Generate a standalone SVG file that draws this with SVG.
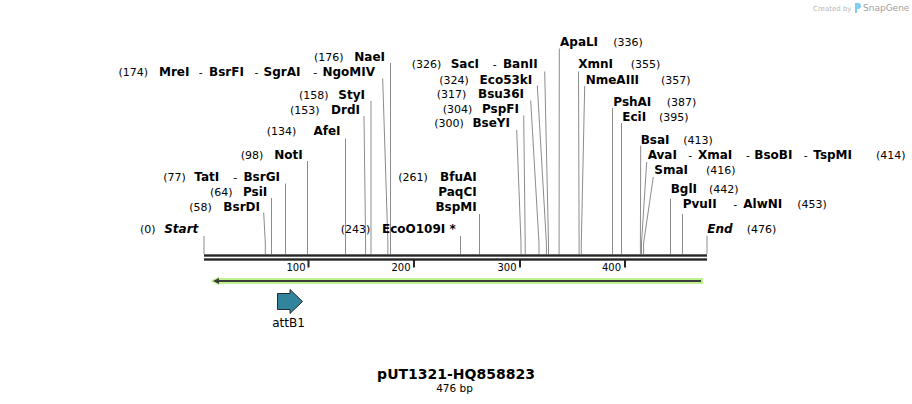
<svg xmlns="http://www.w3.org/2000/svg" width="912" height="404" viewBox="0 0 912 404">
<style>
text{font-family:"DejaVu Sans",Verdana,sans-serif;fill:#000}
.n{font-size:11px}
.b{font-size:12px;font-weight:bold}
.bi{font-size:12px;font-weight:bold;font-style:italic}
.e{text-anchor:end}
.t{font-size:10px;text-anchor:end}
.c{stroke:#8c8c8c;stroke-width:1;fill:none}
</style>
<rect width="912" height="404" fill="#fff"/>
<g id="watermark">
<text x="813" y="10.5" style="font-size:7px;fill:#b8b8b8">Created by</text>
<path d="M855,3 h3 a3,3 0 0 1 0,6 h-1 v4 h-2 z" fill="#7fcdf2"/>
<text x="863" y="11" style="font-size:9px;fill:#a0a0a0">SnapGene</text>
</g>
<g id="backbone">
<rect x="204" y="254.3" width="503" height="2.4" fill="#262626"/>
<rect x="204" y="258.3" width="503" height="2.4" fill="#262626"/>
<rect x="307.5" y="260" width="2" height="7.5" fill="#262626"/>
<rect x="413" y="260" width="2" height="7.5" fill="#262626"/>
<rect x="519" y="260" width="2" height="7.5" fill="#262626"/>
<rect x="624" y="260" width="2" height="7.5" fill="#262626"/>
<text class="t" x="305.5" y="271">100</text>
<text class="t" x="410.5" y="271">200</text>
<text class="t" x="516.5" y="271">300</text>
<text class="t" x="621" y="271">400</text>
</g>
<g id="feature-strand">
<rect x="217" y="278" width="486" height="6" fill="#bff28f"/>
<polygon points="210.5,281 219,276.5 219,285.5" fill="#bff28f"/>
<line x1="216" y1="281" x2="701" y2="281" stroke="#3c3c3c" stroke-width="2"/>
<polygon points="213,281 219,278 219,284" fill="#3c3c3c"/>
</g>
<g id="attB1">
<polygon points="277.5,293.5 290,293.5 290,289.5 302.5,301.5 290,313.5 290,309.5 277.5,309.5" fill="#31849b" stroke="#2a2a2a" stroke-width="1"/>
<text x="288.5" y="327" style="font-size:12px;text-anchor:middle">attB1</text>
</g>
<g id="title">
<text x="456" y="378.5" style="font-size:14px;font-weight:bold;text-anchor:middle">pUT1321-HQ858823</text>
<text x="454.5" y="391.5" style="font-size:10.5px;text-anchor:middle">476 bp</text>
</g>
<g id="connectors">
<polyline class="c" points="204,236 204,254"/>
<polyline class="c" points="263.7,212.5 265.3,243 265.3,254"/>
<polyline class="c" points="271.5,198 271.5,254"/>
<polyline class="c" points="285.5,183.5 285.5,254"/>
<polyline class="c" points="307.5,161 307.5,254"/>
<polyline class="c" points="345.5,138.5 345.5,254"/>
<polyline class="c" points="364,116 365.6,243 365.6,254"/>
<polyline class="c" points="371,101 371,254"/>
<polyline class="c" points="382.7,78.5 387.9,243 387.9,254"/>
<polyline class="c" points="390.5,63 390.5,254"/>
<polyline class="c" points="460.5,236 460.5,254"/>
<polyline class="c" points="479.5,214 479.5,254"/>
<polyline class="c" points="516.7,130 521,243 521,254"/>
<polyline class="c" points="523.7,115.5 525.2,243 525.2,254"/>
<polyline class="c" points="530.7,100.5 539,243 539,254"/>
<polyline class="c" points="537.3,85.5 546.4,243 546.4,254"/>
<polyline class="c" points="544.7,71.5 548.5,243 548.5,254"/>
<polyline class="c" points="559.3,48.5 559.1,243 559.1,254"/>
<polyline class="c" points="578.5,71.5 579.1,243 579.1,254"/>
<polyline class="c" points="584.7,86 581.3,243 581.3,254"/>
<polyline class="c" points="612.5,108 612.5,254"/>
<polyline class="c" points="621.5,123 621.5,254"/>
<polyline class="c" points="640.7,145.5 640.4,243 640.4,254"/>
<polyline class="c" points="646.7,162 641.5,243 641.5,254"/>
<polyline class="c" points="653.3,177 643.6,243 643.6,254"/>
<polyline class="c" points="670.5,198.5 670.5,254"/>
<polyline class="c" points="682.5,214 682.5,254"/>
<polyline class="c" points="707,235.5 707,254"/>
</g>
<g id="Start"><text class="n" x="140" y="233.3">(0)</text><text class="bi e" x="198.3" y="233.3">Start</text></g>
<g id="BsrDI"><text class="n" x="189.3" y="210.7">(58)</text><text class="b e" x="260" y="210.7">BsrDI</text></g>
<g id="PsiI"><text class="n" x="210" y="195.7">(64)</text><text class="b e" x="267.3" y="195.7">PsiI</text></g>
<g id="TatI-BsrGI"><text class="n" x="163.3" y="180.7">(77)</text><text class="b" x="194.3" y="180.7">TatI</text><text class="n" x="233.3" y="180.7">-</text><text class="b e" x="280" y="180.7">BsrGI</text></g>
<g id="NotI"><text class="n" x="240.7" y="159">(98)</text><text class="b e" x="302.7" y="159">NotI</text></g>
<g id="AfeI"><text class="n" x="266.7" y="135">(134)</text><text class="b e" x="340.5" y="135">AfeI</text></g>
<g id="DrdI"><text class="n" x="290" y="113.5">(153)</text><text class="b e" x="360" y="113.5">DrdI</text></g>
<g id="StyI"><text class="n" x="299" y="98.5">(158)</text><text class="b e" x="365" y="98.5">StyI</text></g>
<g id="MreI-NgoMIV"><text class="n" x="118.5" y="76">(174)</text><text class="b" x="159" y="76">MreI</text><text class="n" x="198.7" y="76">-</text><text class="b" x="209" y="76">BsrFI</text><text class="n" x="254.5" y="76">-</text><text class="b" x="263.5" y="76">SgrAI</text><text class="n" x="313.3" y="76">-</text><text class="b e" x="375" y="76">NgoMIV</text></g>
<g id="NaeI"><text class="n" x="314" y="61">(176)</text><text class="b e" x="385" y="61">NaeI</text></g>
<g id="EcoO109I"><text class="n" x="340.7" y="233">(243)</text><text class="b e" x="455.7" y="233">EcoO109I *</text></g>
<g id="BfuAI-PaqCI-BspMI"><text class="n" x="398.3" y="180.7">(261)</text><text class="b e" x="476.7" y="180.7">BfuAI</text><text class="b e" x="476.7" y="195.7">PaqCI</text><text class="b e" x="476.7" y="210.7">BspMI</text></g>
<g id="BseYI"><text class="n" x="434.3" y="127.3">(300)</text><text class="b e" x="510" y="127.3">BseYI</text></g>
<g id="PspFI"><text class="n" x="442.7" y="113.3">(304)</text><text class="b e" x="519" y="113.3">PspFI</text></g>
<g id="Bsu36I"><text class="n" x="436.7" y="98.3">(317)</text><text class="b e" x="524" y="98.3">Bsu36I</text></g>
<g id="Eco53kI"><text class="n" x="439.3" y="84">(324)</text><text class="b e" x="532.3" y="84">Eco53kI</text></g>
<g id="SacI-BanII"><text class="n" x="411.7" y="68.3">(326)</text><text class="b" x="450.7" y="68.3">SacI</text><text class="n" x="492.7" y="68.3">-</text><text class="b e" x="537.7" y="68.3">BanII</text></g>
<g id="ApaLI"><text class="b" x="560" y="45.7">ApaLI</text><text class="n" x="613.3" y="45.7">(336)</text></g>
<g id="XmnI"><text class="b" x="578.3" y="68.3">XmnI</text><text class="n" x="630.7" y="68.3">(355)</text></g>
<g id="NmeAIII"><text class="b" x="585.7" y="84">NmeAIII</text><text class="n" x="661" y="84">(357)</text></g>
<g id="PshAI"><text class="b" x="613.3" y="105.7">PshAI</text><text class="n" x="666.7" y="105.7">(387)</text></g>
<g id="EciI"><text class="b" x="622.3" y="121">EciI</text><text class="n" x="659" y="121">(395)</text></g>
<g id="BsaI"><text class="b" x="640.7" y="144">BsaI</text><text class="n" x="683.3" y="144">(413)</text></g>
<g id="AvaI-TspMI"><text class="b" x="647.7" y="159.3">AvaI</text><text class="n" x="688.3" y="159.3">-</text><text class="b" x="698" y="159.3">XmaI</text><text class="n" x="746" y="159.3">-</text><text class="b" x="754.3" y="159.3">BsoBI</text><text class="n" x="803.7" y="159.3">-</text><text class="b" x="813.3" y="159.3">TspMI</text><text class="n" x="876" y="159.3">(414)</text></g>
<g id="SmaI"><text class="b" x="654.3" y="174.3">SmaI</text><text class="n" x="706" y="174.3">(416)</text></g>
<g id="BglI"><text class="b" x="670.7" y="193.3">BglI</text><text class="n" x="709" y="193.3">(442)</text></g>
<g id="PvuII-AlwNI"><text class="b" x="682.7" y="208.3">PvuII</text><text class="n" x="733.3" y="208.3">-</text><text class="b" x="743.3" y="208.3">AlwNI</text><text class="n" x="797.3" y="208.3">(453)</text></g>
<g id="End"><text class="bi" x="707.3" y="233.3">End</text><text class="n" x="746.7" y="233.3">(476)</text></g>
</svg>
